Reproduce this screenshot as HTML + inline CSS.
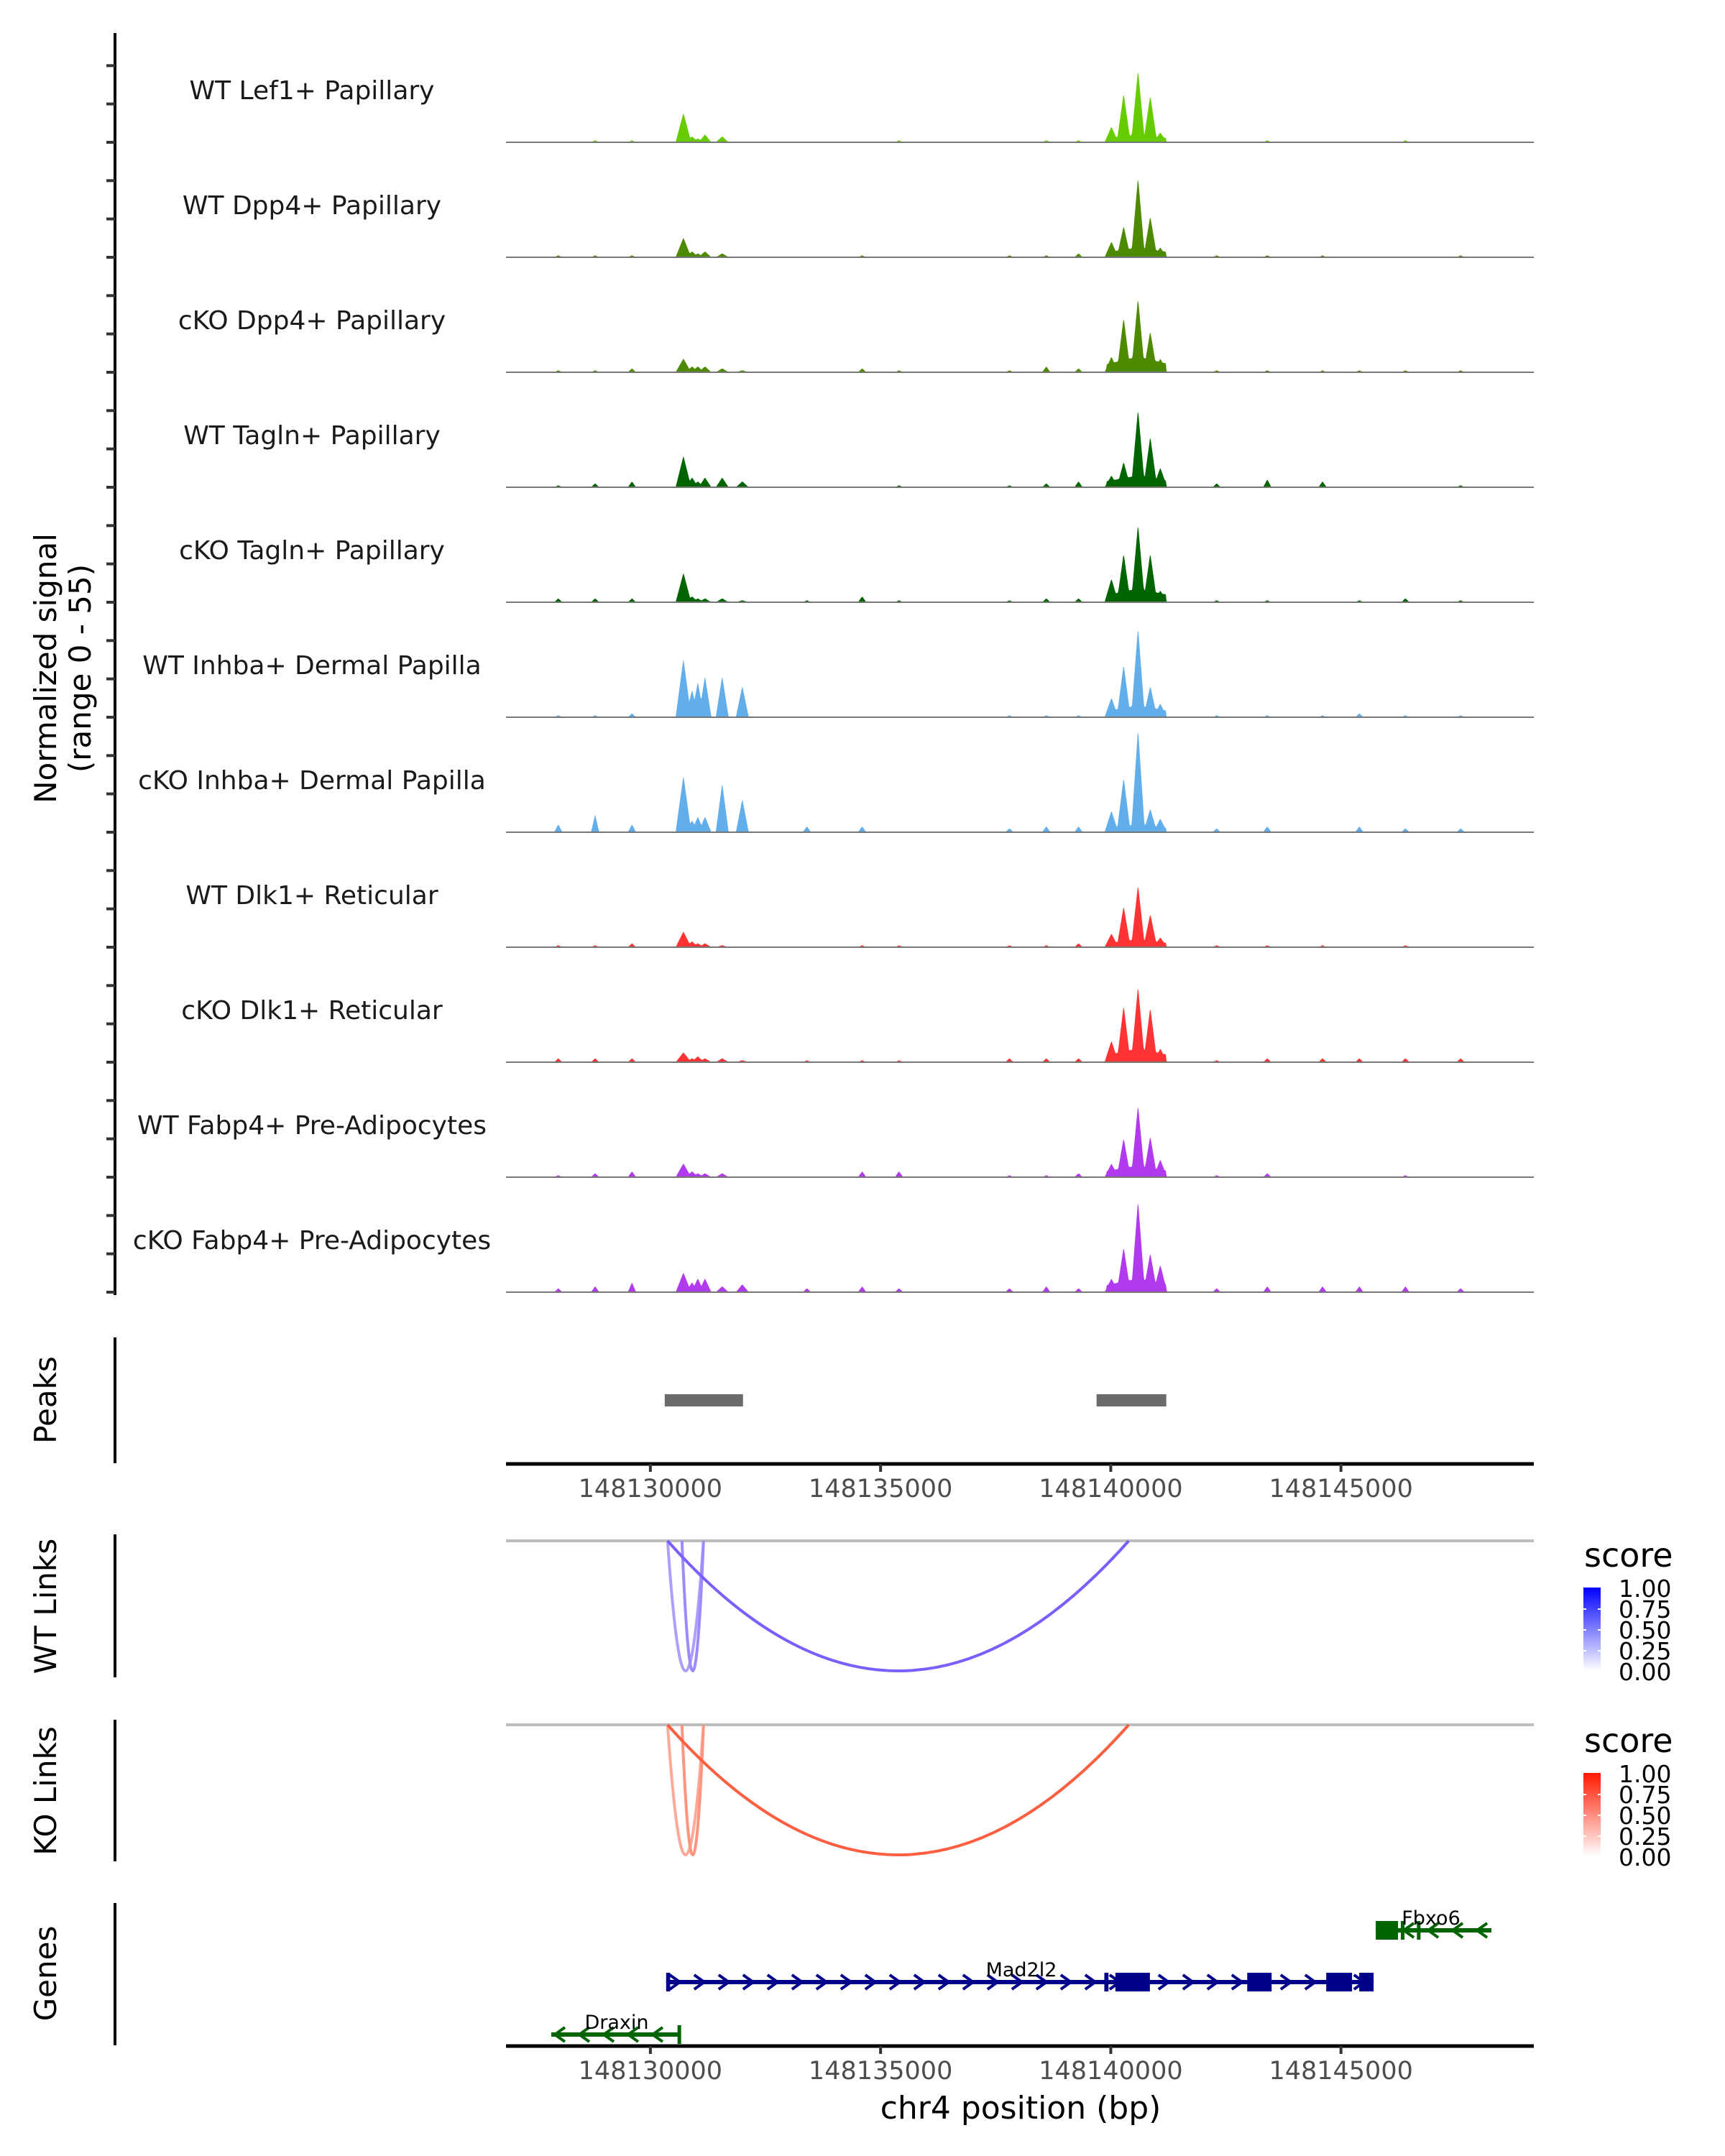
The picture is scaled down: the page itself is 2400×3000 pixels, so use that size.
<!DOCTYPE html>
<html><head><meta charset="utf-8">
<style>
html,body{margin:0;padding:0;background:#fff;}
svg{display:block;font-family:"DejaVu Sans","Liberation Sans",sans-serif;}
</style></head>
<body>
<svg id="fig" width="2400" height="3000" viewBox="0 0 2400 3000" xmlns="http://www.w3.org/2000/svg">
<rect width="2400" height="3000" fill="#fff"/>
<text transform="translate(78,930) rotate(-90)" text-anchor="middle" font-size="42" fill="#000">Normalized signal</text>
<text transform="translate(126,930) rotate(-90)" text-anchor="middle" font-size="42" fill="#000">(range 0 - 55)</text>
<text transform="translate(78,1948) rotate(-90)" text-anchor="middle" font-size="42">Peaks</text>
<text transform="translate(78,2235) rotate(-90)" text-anchor="middle" font-size="42">WT Links</text>
<text transform="translate(78,2492) rotate(-90)" text-anchor="middle" font-size="42">KO Links</text>
<text transform="translate(78,2746) rotate(-90)" text-anchor="middle" font-size="42">Genes</text>
<text x="1420" y="2948" text-anchor="middle" font-size="44">chr4 position (bp)</text>
<g id="g"></g>
</svg>
<script>
// ---- data ----
const regionStart = 148126864, regionEnd = 148149189;
const xTicks = [148130000, 148135000, 148140000, 148145000];
const trackNames = ["WT Lef1+ Papillary","WT Dpp4+ Papillary","cKO Dpp4+ Papillary","WT Tagln+ Papillary","cKO Tagln+ Papillary","WT Inhba+ Dermal Papilla","cKO Inhba+ Dermal Papilla","WT Dlk1+ Reticular","cKO Dlk1+ Reticular","WT Fabp4+ Pre-Adipocytes","cKO Fabp4+ Pre-Adipocytes"];
const mainPeakBp = [148140015,148140280,148140592,148140858,148141076];
const mainPeakVal = [[8,25,37,24,5],[8,16,41,21,5],[8,28,38,21,7],[6,13,40,26,10],[12,25,40,25,6],[10,27,46,16,7],[11,28,53,12,7],[7,21,32,17,5],[11,29,39,28,7],[7,20,37,21,9],[7,23,47,20,14]];
const clusterBase = [4,5,8,6,7,6,4,4,7,6,7];
const leftPeakBp = [148130718,148130905,148131030,148131186,148131560,148131997];
const leftPeakVal = [[15,3,2,4,3,0],[10,3,2,3,2,0],[7,3,3,3,2,1],[16,5,3,5,5,3],[15,3,2,2,2,1],[30,14,18,21,21,16],[29,6,8,8,25,17],[8,3,2,2,1,0],[5,2,3,2,2,1],[7,3,2,2,2,0],[10,5,7,7,3,4]];
const bumpBp = [148128000,148128800,148129600,148133400,148134600,148135400,148137800,148138600,148139300,148142300,148143400,148144600,148145400,148146400,148147600];
const bumpVal = [[0,1,1,0,0,1,0,1,1,0,1,0,0,1,0],[1,1,1,0,1,0,1,1,2,1,1,1,0,0,1],[1,1,2,0,2,1,1,3,2,1,1,1,1,1,1],[1,2,3,0,0,1,1,2,3,2,4,3,0,0,1],[2,2,2,1,3,1,1,2,2,1,1,0,1,2,1],[1,1,2,0,0,0,1,1,1,1,1,1,2,1,1],[4,9,4,3,3,0,2,3,3,2,3,0,3,2,2],[1,1,2,0,1,1,1,1,2,1,1,1,0,1,0],[2,2,2,1,1,1,2,2,2,1,2,2,2,2,2],[1,2,3,0,3,3,1,1,2,1,2,0,0,1,0],[2,3,5,2,3,2,2,3,2,2,3,3,3,3,2]];
const peakStart = [148130312, 148139692];
const peakEnd = [148132012, 148141206];
const wtLinkStart = [148130374, 148130686, 148130374];
const wtLinkEnd = [148131154, 148131154, 148140390];
const wtLinkScore = [0.45, 0.55, 0.75];
const koLinkStart = [148130374, 148130686, 148130374];
const koLinkEnd = [148131154, 148131154, 148140390];
const koLinkScore = [0.4, 0.5, 0.75];
const legendTicks = ["1.00","0.75","0.50","0.25","0.00"];
const geneNames = ["Fbxo6","Mad2l2","Draxin"];
const geneStart = [148145756, 148130343, 148127847];
const geneEnd = [148148268, 148145709, 148130655];
const geneStrand = [-1, 1, -1];
const exonStart = [[148145756,148146300,148146650],[148130343,148139860,148140100,148142964,148144680,148145397]];
const exonEnd = [[148146240,148146380,148146720],[148130430,148139950,148140850,148143494,148145241,148145709]];
exonStart.push([148130590]); exonEnd.push([148130655]);

// ---- layout ----
const NS = "http://www.w3.org/2000/svg";
const g = document.getElementById('g');
const X0 = 704, X1 = 2134;
function xs(bp){ return X0 + (bp - regionStart) * (X1 - X0) / (regionEnd - regionStart); }
const base0 = 198, trackStep = 160, yPerUnit = 150/55;
const trackColors = ["#66cc00","#4d8a00","#4d8a00","#006400","#006400","#62aeea","#62aeea","#ff3333","#ff3333","#b23aee","#b23aee"];
function el(tag, attrs, parent){ const e = document.createElementNS(NS, tag); for (const k in attrs) e.setAttribute(k, attrs[k]); (parent||g).appendChild(e); return e; }

// left axes
let a = el('line',{x1:160,y1:46,x2:160,y2:1802,stroke:'#000','stroke-width':4});


for (let k = 1; k <= 33; k++) {
  const y = base0 - trackStep + k * trackStep / 3;
  const t = el('line',{x1:148,y1:y,x2:160,y2:y,stroke:'#333','stroke-width':4});
  
  
}
[[1861,2036,'peaks-axis'],[2135,2334,'wt-links-axis'],[2393,2590,'ko-links-axis'],[2648,2846,'genes-axis']].forEach(s=>{
  const l = el('line',{x1:160,y1:s[0],x2:160,y2:s[1],stroke:'#000','stroke-width':4});
  
  
});

// coverage tracks
function tri(x, c, h, w){ const d = Math.abs(x - c); return d >= w ? 0 : h * (1 - d / w); }
trackNames.forEach((name, i) => {
  const base = base0 + i * trackStep;
  const grp = el('g', {});
  
  
  const lab = el('text', {x:434, y:base-60, 'text-anchor':'middle', 'font-size':36, fill:'#1a1a1a'}, grp);
  lab.textContent = name;
  
  
  let d = 'M' + X0 + ',' + base;
  for (let px = X0; px <= X1; px += 1) {
    const bp = regionStart + (px - X0) * (regionEnd - regionStart) / (X1 - X0);
    let v = 0;
    mainPeakBp.forEach((c, j) => { v = Math.max(v, tri(bp, c, mainPeakVal[i][j], 150)); });
    if (bp > mainPeakBp[0] - 100 && bp < mainPeakBp[4] + 120) v = Math.max(v, clusterBase[i] * (1 - Math.abs(bp - mainPeakBp[2]) / 1400));
    leftPeakBp.forEach((c, j) => { v = Math.max(v, tri(bp, c, leftPeakVal[i][j], j === 0 ? 170 : 140)); });
    bumpBp.forEach((c, j) => { v = Math.max(v, tri(bp, c, bumpVal[i][j], 90)); });
    d += ' L' + px + ',' + (base - v * yPerUnit).toFixed(1);
  }
  d += ' L' + X1 + ',' + base + ' Z';
  const p = el('path', {d:d, fill:trackColors[i]}, grp);
  
  
  const bl = el('line', {x1:X0, y1:base, x2:X1, y2:base, stroke:'#777', 'stroke-width':2}, grp);
  
  
});

// peaks
peakStart.forEach((s, i) => {
  const r = el('rect', {x:xs(s), y:1940, width:xs(peakEnd[i]) - xs(s), height:17, fill:'#6b6b6b'});
  
  
});

// x axes
function xAxis(y, name){
  const l = el('line', {x1:X0, y1:y, x2:X1, y2:y, stroke:'#000', 'stroke-width':5});
  
  
  xTicks.forEach(t => {
    const tk = el('line', {x1:xs(t), y1:y, x2:xs(t), y2:y+11, stroke:'#333', 'stroke-width':4});
    
    
    const tl = el('text', {x:xs(t), y:y+46, 'text-anchor':'middle', 'font-size':35, fill:'#4d4d4d'});
    tl.textContent = t;
    
    
  });
}
xAxis(2037, 'peaks-x-axis');
xAxis(2847, 'genes-x-axis');

// links
function mix(c, s){ return 'rgb(' + c.map(v => Math.round(255 * (1 - s) + v * s)).join(',') + ')'; }
function links(starts, ends, scores, y0, col, name){
  const bl = el('line', {x1:X0, y1:y0, x2:X1, y2:y0, stroke:'#bebebe', 'stroke-width':4});
  
  
  starts.forEach((s, i) => {
    const x1 = xs(s), x2 = xs(ends[i]), depth = 181;
    const p = el('path', {d:'M'+x1+','+y0+' Q'+((x1+x2)/2)+','+(y0+depth*2)+' '+x2+','+y0, fill:'none', stroke:mix(col, scores[i]), 'stroke-width':4});
    
    
  });
}
links(wtLinkStart, wtLinkEnd, wtLinkScore, 2144, [80,40,255], 'wt-link');
links(koLinkStart, koLinkEnd, koLinkScore, 2400, [255,40,0], 'ko-link');

// legends
const defs = el('defs', {});
function grad(id, top){
  const lg = el('linearGradient', {id:id, x1:0, y1:1, x2:0, y2:0}, defs);
  el('stop', {offset:0, 'stop-color':'#ffffff'}, lg);
  el('stop', {offset:1, 'stop-color':top}, lg);
}
grad('gw', '#0000ff'); grad('gk', '#ff1a00');
function legend(y, id, name){
  const t = el('text', {x:2204, y:y, 'font-size':46});
  t.textContent = 'score';
  
  
  const r = el('rect', {x:2203, y:y+29, width:24, height:116, fill:'url(#' + id + ')'});
  
  
  legendTicks.forEach((lt, i) => {
    const yy = y + 30 + i * 29;
    if (i > 0 && i < 4) {
      el('line', {x1:2203, y1:yy, x2:2207, y2:yy, stroke:'#fff', 'stroke-width':2});
      el('line', {x1:2223, y1:yy, x2:2227, y2:yy, stroke:'#fff', 'stroke-width':2});
    }
    const tx = el('text', {x:2252, y:yy + 12, 'font-size':33});
    tx.textContent = lt;
    
    
  });
}
legend(2180, 'gw', 'wt-score-legend');
legend(2438, 'gk', 'ko-score-legend');

// genes
const geneY = [2686, 2758, 2831];
const geneColors = ["#006400","#00008b","#006400"];
geneNames.forEach((n, i) => {
  const grp = el('g', {});
  
  
  const y = geneY[i], c = geneColors[i], x1 = xs(geneStart[i]), x2 = xs(geneEnd[i]);
  el('line', {x1:x1, y1:y, x2:x2, y2:y, stroke:c, 'stroke-width':6}, grp);
  for (let x = x1 + 12; x < x2 - 6; x += 34) {
    const dx = geneStrand[i] * 7;
    el('polyline', {points:(x-dx)+','+(y-10)+' '+(x+dx)+','+y+' '+(x-dx)+','+(y+10), fill:'none', stroke:c, 'stroke-width':4}, grp);
  }
  exonStart[i].forEach((s, j) => {
    const ex1 = xs(s), ex2 = xs(exonEnd[i][j]);
    el('rect', {x:ex1, y:y-13, width:Math.max(5, ex2 - ex1), height:26, fill:c}, grp);
  });
  const t = el('text', {x:(i === 0 ? 1991 : i === 1 ? 1421 : 858), y:y - 8, 'text-anchor':'middle', 'font-size':27, fill:'#000'}, grp);
  t.textContent = n;
  
  
});
</script>
</body></html>
